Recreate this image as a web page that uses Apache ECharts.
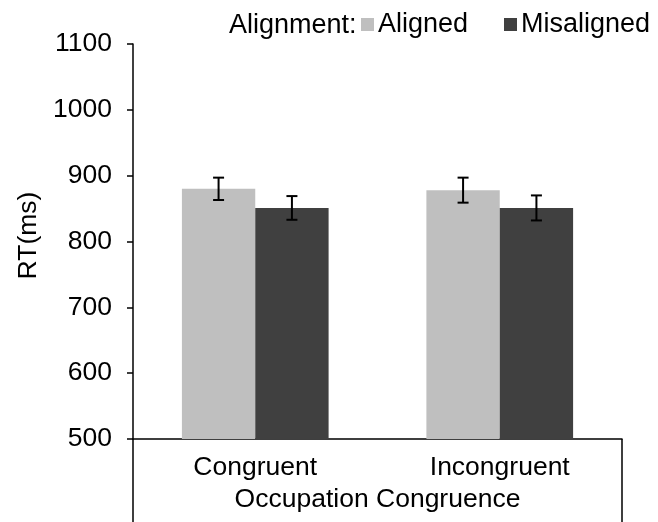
<!DOCTYPE html>
<html>
<head>
<meta charset="utf-8">
<script src="https://cdn.jsdelivr.net/npm/echarts@6/dist/echarts.min.js"></script>
<style>html,body{margin:0;padding:0;background:#fff;}#c{width:658px;height:522px;}</style>
</head>
<body>
<div id="c"></div>
<script>
var categories = ['Congruent', 'Incongruent'];
var seriesNames = ['Aligned', 'Misaligned'];
var alignedValues = [880, 878];
var misalignedValues = [851, 851];
var alignedErrors = [17, 19];
var misalignedErrors = [18, 19];
var yTicks = [500, 600, 700, 800, 900, 1000, 1100];

var FONT = 'Liberation Sans, Arial, sans-serif';
var FS = 26.5;
var LFS = 27;
var chart = echarts.init(document.getElementById('c'));

function errSeries(values, errs, offsetFrac) {
  return {
    type: 'custom',
    silent: true,
    z: 10,
    data: values.map(function (v, i) { return [i, v, errs[i]]; }),
    encode: { x: 0, y: 1 },
    renderItem: function (params, api) {
      var i = api.value(0), v = api.value(1), e = api.value(2);
      var band = api.size([1, 0])[0];
      var c = api.coord([i, v]);
      var x = c[0] + offsetFrac * band;
      var top = api.coord([i, v + e])[1];
      var bot = api.coord([i, v - e])[1];
      var hw = 5.5;
      var st = { stroke: '#000', lineWidth: 2 };
      return {
        type: 'group',
        children: [
          { type: 'line', shape: { x1: x, y1: top, x2: x, y2: bot }, style: st },
          { type: 'line', shape: { x1: x - hw, y1: top, x2: x + hw, y2: top }, style: st },
          { type: 'line', shape: { x1: x - hw, y1: bot, x2: x + hw, y2: bot }, style: st }
        ]
      };
    }
  };
}

chart.setOption({
  animation: false,
  backgroundColor: '#fff',
  textStyle: { fontFamily: FONT },
  title: {
    text: 'Alignment:',
    left: 224, top: 7,
    textStyle: { fontFamily: FONT, fontSize: LFS, fontWeight: 'normal', color: '#000' }
  },
  legend: [
    {
      data: [seriesNames[0]], left: 361, top: 11, padding: 0,
      itemWidth: 13, itemHeight: 13, icon: 'rect', itemGap: 0,
      textStyle: { fontFamily: FONT, fontSize: LFS, color: '#000', padding: [0,0,4,-1] }
    },
    {
      data: [seriesNames[1]], left: 504, top: 11, padding: 0,
      itemWidth: 13, itemHeight: 13, icon: 'rect', itemGap: 0,
      textStyle: { fontFamily: FONT, fontSize: LFS, color: '#000', padding: [0,0,4,-1] }
    }
  ],
  grid: { left: 133, right: 36, top: 44, bottom: 83, containLabel: false },
  xAxis: {
    type: 'category',
    data: categories,
    name: 'Occupation Congruence',
    nameLocation: 'middle',
    nameGap: 42,
    nameTextStyle: { fontFamily: FONT, fontSize: FS, color: '#000' },
    axisLine: { lineStyle: { color: '#000', width: 1.5 } },
    axisTick: { show: true, length: 84, lineStyle: { color: '#000', width: 1.5 },
      interval: function (idx) { return idx === 0; } },
    axisLabel: { fontFamily: FONT, fontSize: FS, color: '#000', margin: 15 }
  },
  yAxis: {
    type: 'value',
    min: yTicks[0], max: yTicks[yTicks.length - 1], interval: 100,
    name: 'RT(ms)',
    nameLocation: 'middle',
    nameGap: 88,
    nameRotate: 90,
    nameTextStyle: { fontFamily: FONT, fontSize: FS, color: '#000', padding: [0, 0, 0, 12] },
    axisLine: { show: true, lineStyle: { color: '#000', width: 1.5 } },
    axisTick: { show: true, length: 6, lineStyle: { color: '#000', width: 1.5 } },
    splitLine: { show: false },
    axisLabel: { fontFamily: FONT, fontSize: FS, color: '#000', margin: 21,
      formatter: function (v) { return String(v); } }
  },
  series: [
    { name: seriesNames[0], type: 'bar', data: alignedValues, barGap: '0%', barCategoryGap: '40%',
      itemStyle: { color: '#bfbfbf' } },
    { name: seriesNames[1], type: 'bar', data: misalignedValues, barGap: '0%', barCategoryGap: '40%',
      itemStyle: { color: '#404040' } },
    errSeries(alignedValues, alignedErrors, -0.15),
    errSeries(misalignedValues, misalignedErrors, 0.15)
  ]
});
</script>
</body>
</html>
